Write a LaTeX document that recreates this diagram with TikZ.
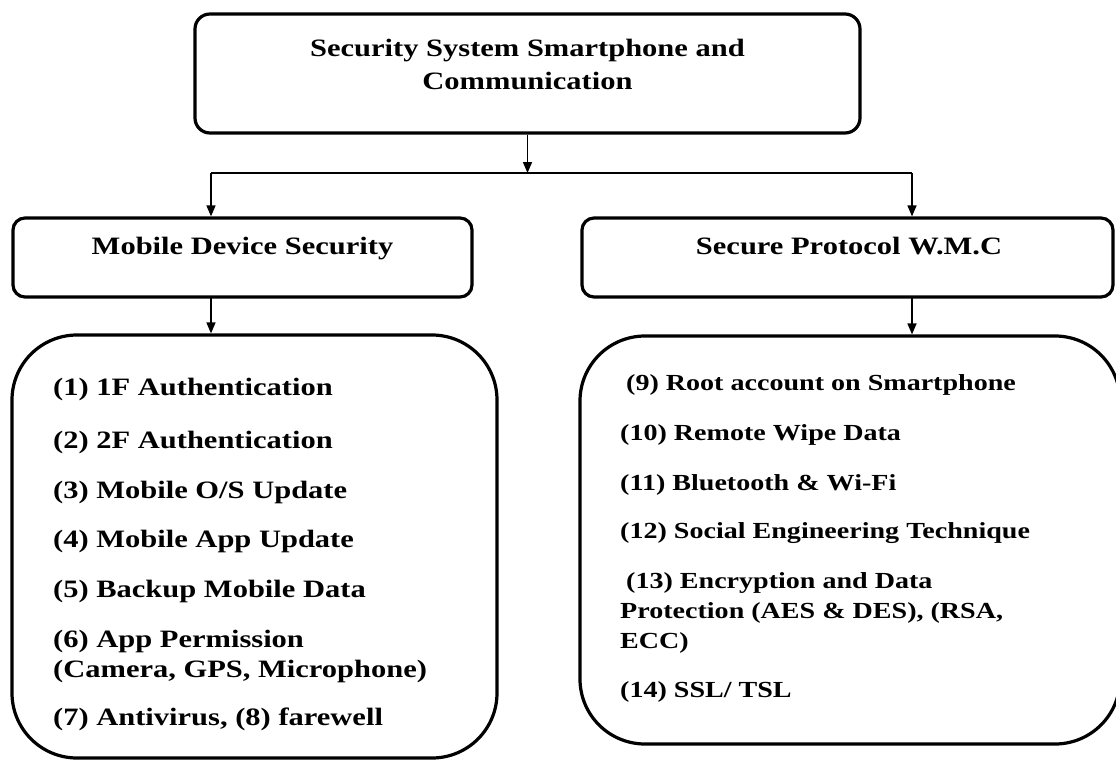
\documentclass[tikz,border=0pt]{standalone}
\usepackage{fontspec}
\setmainfont{Liberation Serif}
\newfontfamily\labfont[FakeStretch=1.22]{Liberation Serif}
\usetikzlibrary{arrows.meta}
\begin{document}
\begin{tikzpicture}[x=1pt,y=-1pt,
  boxline/.style={draw=black,line width=3.2pt},
  topbox/.style={boxline,rounded corners=15pt,inner sep=0pt},
  midbox/.style={boxline,rounded corners=12pt,inner sep=0pt},
  bigbox/.style={boxline,rounded corners=65pt,inner sep=0pt},
  conn/.style={draw=black,line width=1.5pt},
  arr/.style={conn,-{Triangle[length=11pt,width=9pt]}},
  headtxt/.style={inner sep=0pt,anchor=base,font=\labfont\bfseries\fontsize{25}{30}\selectfont},
  ltxt/.style={inner sep=0pt,anchor=base west,font=\labfont\bfseries\fontsize{25}{30}\selectfont},
  rtxt/.style={inner sep=0pt,anchor=base west,font=\labfont\bfseries\fontsize{23}{28}\selectfont}]
\useasboundingbox[fill=white] (0,0) rectangle (1116,761);

% boxes
\node[topbox,minimum width=665pt,minimum height=119pt] (top) at (527.5,73.5) {};
\node[midbox,minimum width=459pt,minimum height=79pt] (mds) at (242.5,257.5) {};
\node[midbox,minimum width=531pt,minimum height=79pt] (spw) at (847.5,257.5) {};
\node[bigbox,minimum width=485pt,minimum height=423pt] (lbox) at (254.5,546.5) {};
\node[bigbox,minimum width=540pt,minimum height=408pt] (rbox) at (850,540) {};

% titles
\node[headtxt] (t1) at (527.5,56) {Security System Smartphone and};
\node[headtxt] (t2) at (527.5,89) {Communication};
\node[headtxt] (m1) at (242.5,254) {Mobile Device Security};
\node[headtxt] (m2) at (849,254) {Secure Protocol W.M.C};

% connectors
\coordinate (j) at (527.5,173);
\coordinate (jl) at (211,173);
\coordinate (jr) at (912,173);
\draw[arr] (top.south) -- (j);
\draw[conn] (jl) -- (jr);
\draw[arr] (jl) -- (jl |- mds.north);
\draw[arr] (jr) -- (jr |- spw.north);
\coordinate (bl) at (211,297);
\coordinate (br) at (912,297);
\draw[arr] (bl) -- (bl |- lbox.north);
\draw[arr] (br) -- (br |- rbox.north);

% left list
\node[ltxt] (l1) at (53,395) {(1) 1F Authentication};
\node[ltxt] (l2) at (53,448) {(2) 2F Authentication};
\node[ltxt] (l3) at (53,498) {(3) Mobile O/S Update};
\node[ltxt] (l4) at (53,547) {(4) Mobile App Update};
\node[ltxt] (l5) at (53,597) {(5) Backup Mobile Data};
\node[ltxt] (l6a) at (53,647) {(6) App Permission};
\node[ltxt] (l6b) at (53,677) {(Camera, GPS, Microphone)};
\node[ltxt] (l7) at (53,725) {(7) Antivirus, (8) farewell};

% right list
\node[rtxt] (r9) at (626,390) {(9) Root account on Smartphone};
\node[rtxt] (r10) at (620,440) {(10) Remote Wipe Data};
\node[rtxt] (r11) at (620,490) {(11) Bluetooth \& Wi-Fi};
\node[rtxt] (r12) at (620,538) {(12) Social Engineering Technique};
\node[rtxt] (r13a) at (626,588) {(13) Encryption and Data};
\node[rtxt] (r13b) at (620,618) {Protection (AES \& DES), (RSA,};
\node[rtxt] (r13c) at (620,648) {ECC)};
\node[rtxt] (r14) at (620,697) {(14) SSL/ TSL};
\end{tikzpicture}
\end{document}
